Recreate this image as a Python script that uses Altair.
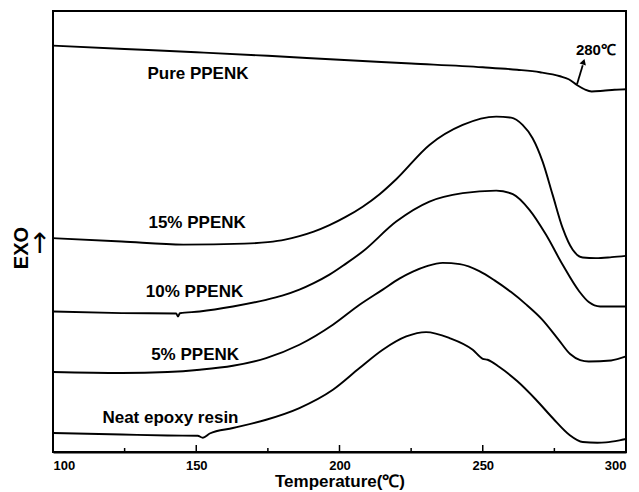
import altair as alt
import pandas as pd

# ---- data (temperature in °C, heat flow in arbitrary units, EXO up) ----
pure_T = [100, 125, 150, 175, 200, 225, 250, 262, 270, 277, 280, 283, 285.5, 288, 292, 296, 300]
pure_v = [406.6, 403.3, 400, 396.5, 392.5, 388.8, 385, 382.5, 380, 376, 373, 367, 363, 360.8, 361.5, 362.5, 363]

p15_T = [100, 124, 145.5, 166.8, 175, 181, 186, 191, 196.5, 202, 208.1, 214, 219.8, 231.4, 243, 254.7, 259.9, 263.9, 267.4, 270.9, 274.4, 277.9, 281.4, 284.9, 289.5, 295, 300]
p15_v = [214, 210.6, 207.5, 208.5, 210, 212.5, 216, 220.5, 227, 235, 245.5, 258, 273, 307.3, 327.3, 335.6, 334.6, 327.3, 314, 290.6, 257.3, 224, 202.3, 194.6, 194, 195, 196.3]

p10_T = [100, 124, 143, 143.6, 144.3, 151.2, 162.8, 174.4, 180, 186, 191, 196.5, 202, 208.1, 219.8, 231.4, 243, 254.7, 260.5, 266.3, 272.1, 277.9, 283.7, 287, 291, 300]
p10_v = [140.6, 139, 138.6, 135.6, 138.8, 140.6, 145.6, 152.3, 156.5, 162.5, 169, 177.5, 188, 200.6, 230.6, 250.6, 259, 261.6, 258, 242.3, 217.3, 187.3, 160.6, 150, 145.6, 145.6]

p5_T = [100, 124, 140, 151.2, 162.8, 174.4, 186, 197.7, 207, 215.1, 220.9, 225.6, 230.5, 236, 242, 248.8, 254, 259.9, 265, 270.6, 276.3, 280.5, 284, 287, 294.8, 300]
p5_v = [80, 79, 80, 82.3, 86.3, 94, 107.3, 127.3, 147.3, 162.5, 173.5, 180.5, 186, 189.3, 188, 181, 172, 160, 148, 133, 113, 98, 92, 90.6, 91.6, 95.6]

neat_T = [100, 124, 140, 150.5, 152.3, 154.7, 162.8, 174.4, 186, 197.7, 207, 215.1, 223.3, 230.2, 238.4, 246.5, 250, 251.7, 255.8, 262, 268.6, 274.4, 280.2, 284.9, 290, 293, 297.7, 300]
neat_v = [19, 17.5, 16.5, 16.3, 14.3, 18.5, 24, 32.3, 44, 62.3, 84, 102.3, 115.6, 120, 114, 102.3, 93.3, 92.3, 85, 71, 52.3, 34, 17.3, 10, 9.3, 9.6, 11.6, 13]

series_names = ["Pure PPENK", "15% PPENK", "10% PPENK", "5% PPENK", "Neat epoxy resin"]
label_T = [150.6, 150.3, 149.4, 149.6, 141]
label_v = [378.3, 229.6, 160.6, 97.3, 34]

note_text = ["280℃"]
note_T = [289.5]
note_v = [402.3]
arrow_T = [282.9, 284.9]
arrow_v = [368, 387]
arrow_head_T = [285.2]
arrow_head_v = [390.6]

major_ticks = [100, 150, 200, 250, 300]
minor_ticks = [125, 175, 225, 275]

# ---- build tables ----
rows = []
for name, T, v in zip(series_names, [pure_T, p15_T, p10_T, p5_T, neat_T], [pure_v, p15_v, p10_v, p5_v, neat_v]):
    for i, (t, val) in enumerate(zip(T, v)):
        rows.append({"series": name, "T": t, "v": val, "order": i})
curves = pd.DataFrame(rows)
labels = pd.DataFrame({"text": series_names, "T": label_T, "v": label_v})
notes = pd.DataFrame({"text": note_text, "T": note_T, "v": note_v})
arrow = pd.DataFrame({"T": arrow_T, "v": arrow_v, "order": [0, 1]})
head = pd.DataFrame({"T": arrow_head_T, "v": arrow_head_v})
majors = pd.DataFrame({"T": major_ticks})
minors = pd.DataFrame({"T": minor_ticks})

W, H = 573, 441
FONT = "Liberation Sans"

xscale = alt.Scale(domain=[100, 300], nice=False, zero=False)
yscale = alt.Scale(domain=[0, 441.3], nice=False, zero=False)

xaxis = alt.Axis(
    values=major_ticks, ticks=False, grid=False, format="d",
    labelFont=FONT, labelFontSize=13, labelFontWeight="bold", labelColor="black",
    labelPadding=7, domainColor="black", domainWidth=2,
    title="Temperature(℃)", titleFont=FONT, titleFontSize=17, titleFontWeight="bold",
    titleColor="black", titlePadding=1,
)

x = alt.X("T:Q", scale=xscale, axis=xaxis)
y = alt.Y("v:Q", scale=yscale, axis=None)

lines = alt.Chart(curves).mark_line(color="black", strokeWidth=1.9, interpolate="monotone").encode(
    x=x, y=y, detail="series:N", order="order:Q"
)

label_marks = alt.Chart(labels).mark_text(
    font=FONT, fontSize=17, fontWeight="bold", color="black", align="center", baseline="middle"
).encode(x=alt.X("T:Q", scale=xscale), y=alt.Y("v:Q", scale=yscale), text="text:N")

note_marks = alt.Chart(notes).mark_text(
    font=FONT, fontSize=15, fontWeight="bold", color="black", align="center", baseline="middle"
).encode(x=alt.X("T:Q", scale=xscale), y=alt.Y("v:Q", scale=yscale), text="text:N")

arrow_line = alt.Chart(arrow).mark_line(color="black", strokeWidth=1.8).encode(
    x=alt.X("T:Q", scale=xscale), y=alt.Y("v:Q", scale=yscale), order="order:Q"
)
arrow_head = alt.Chart(head).mark_point(
    shape="triangle-up", filled=True, color="black", size=45, angle=18, opacity=1
).encode(x=alt.X("T:Q", scale=xscale), y=alt.Y("v:Q", scale=yscale))

major_rules = alt.Chart(majors).mark_rule(color="black", strokeWidth=1.5).encode(
    x=alt.X("T:Q", scale=xscale), y=alt.value(H), y2=alt.value(H - 7)
)
minor_rules = alt.Chart(minors).mark_rule(color="black", strokeWidth=1.5).encode(
    x=alt.X("T:Q", scale=xscale), y=alt.value(H), y2=alt.value(H - 4)
)

exo = alt.Chart(pd.DataFrame({"t": ["EXO"]})).mark_text(
    font=FONT, fontSize=20, fontWeight="bold", color="black", angle=270,
    align="center", baseline="middle"
).encode(x=alt.value(-31.5), y=alt.value(237), text="t:N")

up = alt.Chart(pd.DataFrame({"t": ["↑"]})).mark_text(
    font="DejaVu Sans", fontSize=28, color="black", align="center", baseline="middle"
).encode(x=alt.value(-13.3), y=alt.value(234), text="t:N")

chart = alt.layer(
    lines, label_marks, note_marks, arrow_line, arrow_head, major_rules, minor_rules, exo, up
).properties(
    width=W, height=H,
    autosize=alt.AutoSizeParams(type="none"),
    padding={"left": 53, "top": 11, "right": 12, "bottom": 40},
    background="white",
).configure_view(stroke="black", strokeWidth=2)

chart.save("out.html", embed_options={"renderer": "svg", "actions": False})
